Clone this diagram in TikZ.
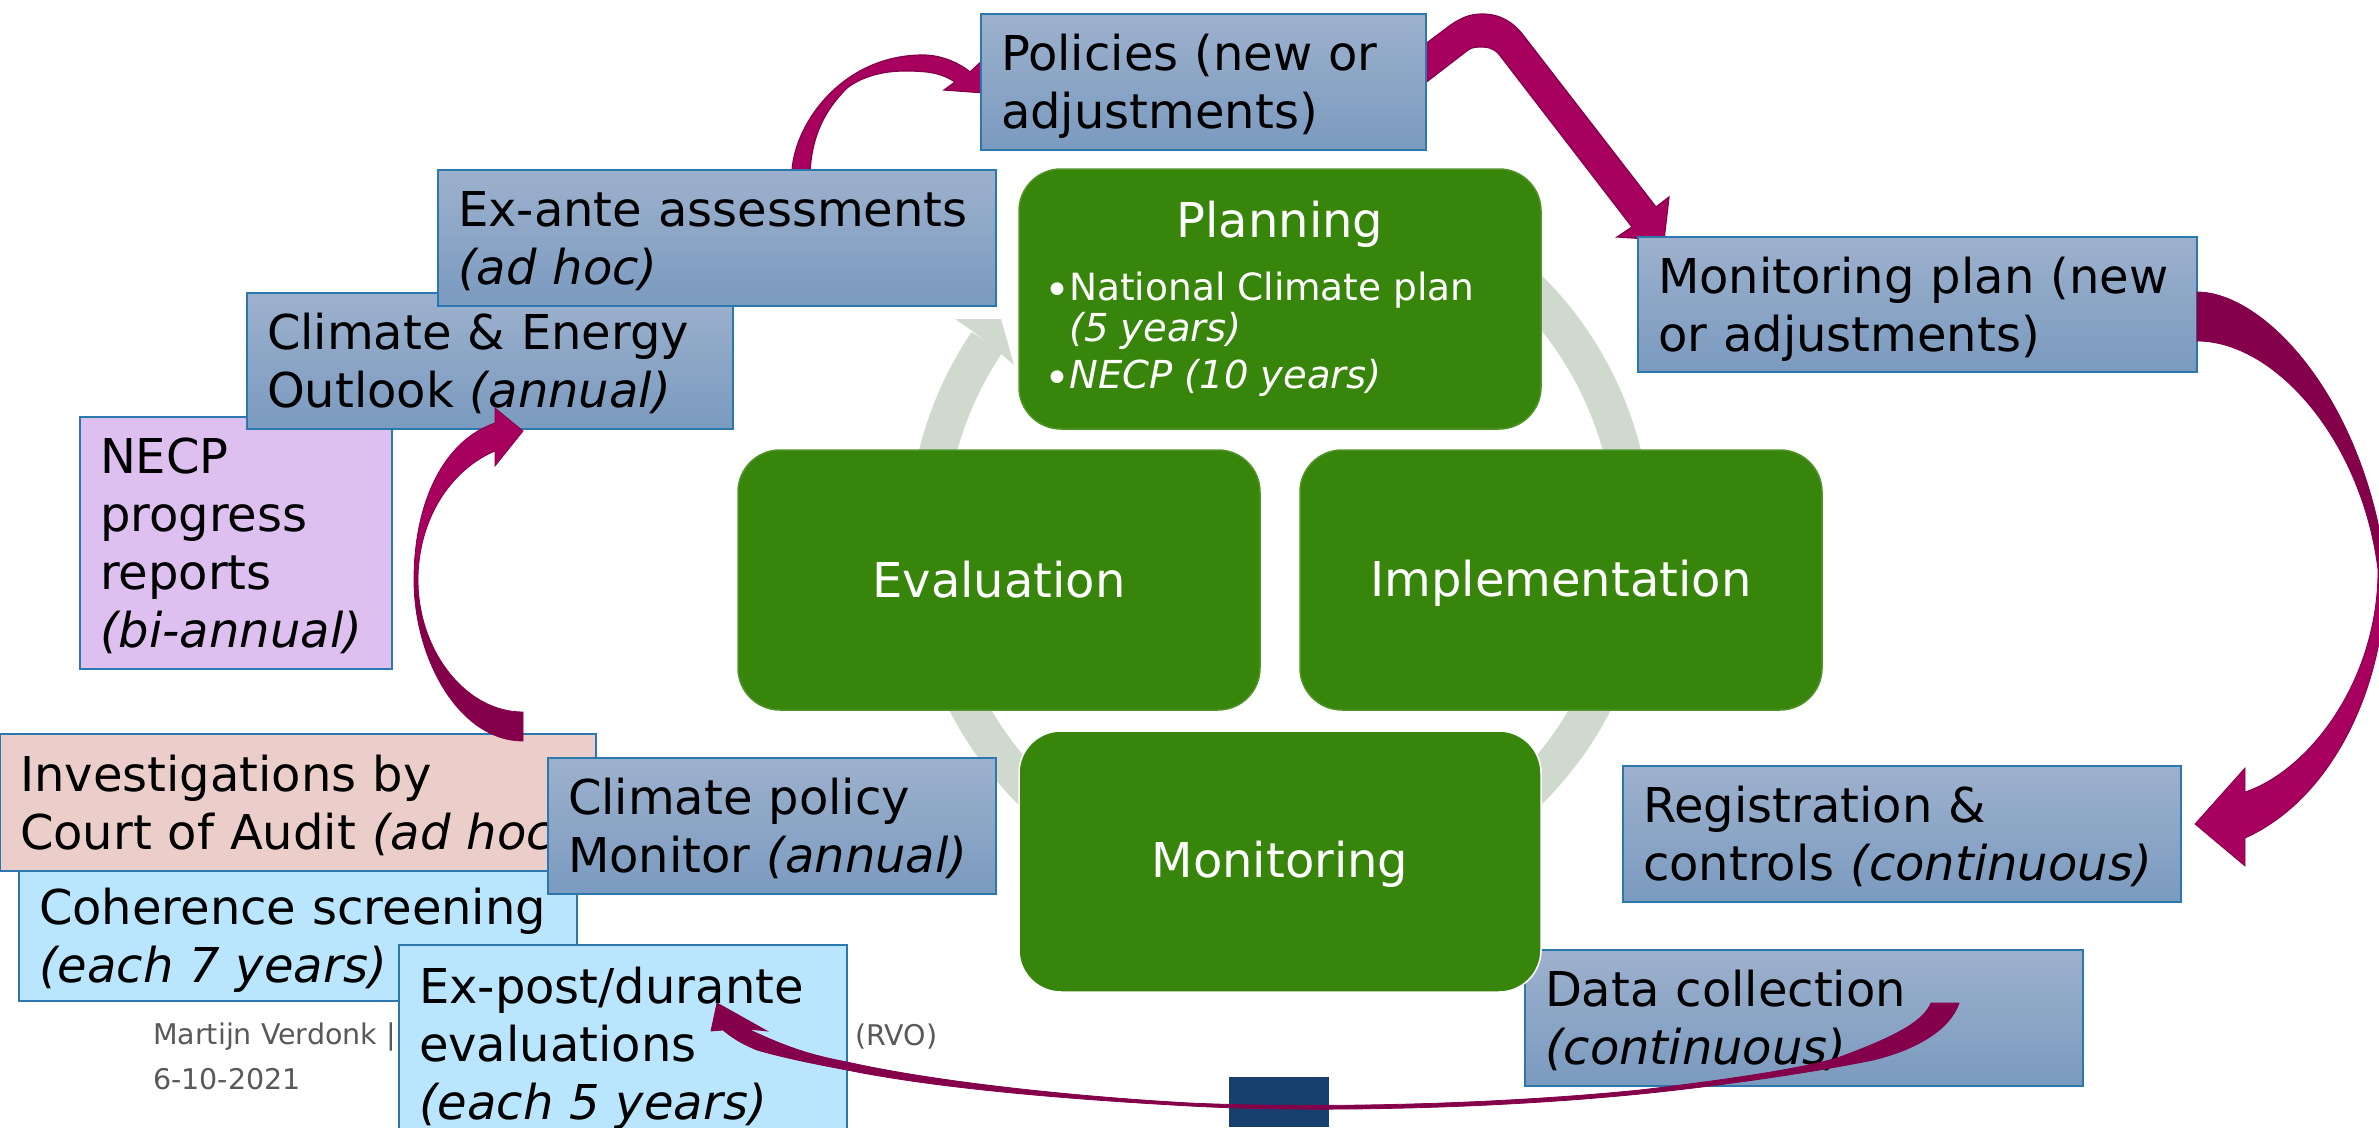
\documentclass[tikz,border=0pt]{standalone}
\usepackage{fontspec}
\setmainfont{DejaVu Sans}
\definecolor{boxtop}{HTML}{9DB1CD}
\definecolor{boxbot}{HTML}{7A9ABF}
\definecolor{boxline}{HTML}{2A78AE}
\definecolor{leaf}{HTML}{38850C}
\definecolor{ring}{HTML}{CFD9CD}
\definecolor{pinkbox}{HTML}{EBCEC9}
\definecolor{skybox}{HTML}{B9E6FE}
\definecolor{lilacbox}{HTML}{DDBFF0}
\definecolor{arrlight}{HTML}{A8005E}
\definecolor{arrdark}{HTML}{85004B}
\definecolor{navy}{HTML}{17406F}
\definecolor{foot}{HTML}{595959}
\pgfdeclareverticalshading{lighttop}{100bp}{color(0bp)=(arrdark); color(47bp)=(arrdark); color(53bp)=(arrlight); color(100bp)=(arrlight)}
\pgfdeclareverticalshading{darktop}{100bp}{color(0bp)=(arrlight); color(47bp)=(arrlight); color(53bp)=(arrdark); color(100bp)=(arrdark)}
\pgfdeclarehorizontalshading{lightleft}{100bp}{color(0bp)=(arrlight); color(8bp)=(arrlight); color(18bp)=(arrdark); color(100bp)=(arrdark)}
\tikzset{
  anybox/.style={anchor=north west,align=left,outer sep=0pt,inner xsep=20pt,inner ysep=0pt,draw=boxline,line width=1.6pt,text=black,font=\fontsize{48}{58}\selectfont,
    execute at begin node={\rule{0pt}{46pt}},execute at end node={\rule[-11pt]{0pt}{0pt}}},
  bluebox/.style={anybox,top color=boxtop,bottom color=boxbot},
  flatbox/.style={anybox,fill=#1},
  leafbox/.style={anchor=north west,fill=leaf,draw=leaf!88!white,line width=1.5pt,outer sep=0pt,rounded corners=42pt,text=white,align=center,inner sep=0pt,font=\fontsize{48}{58}\selectfont,
    execute at begin node={\rule{0pt}{42pt}},execute at end node={\rule[-8pt]{0pt}{0pt}}},
  leaftext/.style={anchor=base west,text=white,inner sep=0pt,font=\fontsize{37.5}{44}\selectfont},
  leafital/.style={anchor=base west,text=white,inner sep=0pt,font=\fontsize{38.5}{44}\selectfont\itshape},
  leafdot/.style={anchor=base west,text=white,inner sep=0pt,font=\fontsize{44}{44}\selectfont},
  footnote/.style={anchor=west,text=foot,inner sep=0pt,font=\fontsize{28.5}{36}\selectfont},
  blockflat/.style={fill=arrlight,draw=arrdark,line width=1.2pt},
  blocklt/.style={shade,shading=lighttop,draw=arrdark,line width=0.8pt},
  blockdt/.style={shade,shading=darktop,draw=arrdark,line width=0.8pt},
  blockll/.style={shade,shading=lightleft,draw=arrdark,line width=0.8pt},
  ringline/.style={draw=ring,line width=37pt}
}
\begin{document}
\begin{tikzpicture}[x=1pt,y=-1pt]
\useasboundingbox (0,0) rectangle (2379,1127);
\clip (0,0) rectangle (2379,1127);
\fill[white] (0,0) rectangle (2379,1127);
% cycle ring
\coordinate (hub) at (1280,540);
\draw[ringline] ([shift={(62:353.5 and -353.5)}]hub) arc[start angle=62,end angle=-62,x radius=353.5,y radius=-353.5];
\draw[ringline] ([shift={(146:353.5 and -353.5)}]hub) arc[start angle=146,end angle=240,x radius=353.5,y radius=-353.5];
\fill[ring] (955,319) -- (1001,319) -- (1014,365) -- (1000,353) -- (971,330) -- cycle;
% arrows beneath the boxes
\path[blockflat] (792,172) -- (792,170) .. controls (796,120) and (845,55) .. (923,55) .. controls (940,55) and (958,62) .. (970,72) -- (985,58) -- (985,93) -- (944,90) -- (955,82) .. controls (940,72) and (925,71) .. (904,71) .. controls (880,71) and (860,78) .. (847,88) .. controls (825,110) and (812,135) .. (810,172) -- cycle;
\path[blockflat] (1420,48) -- (1448,27) .. controls (1460,18) and (1470,14) .. (1482,14) .. controls (1500,14) and (1513,22) .. (1523,35) -- (1656,207) -- (1669,197) -- (1664,240) -- (1617,237) -- (1632,227) -- (1498,53) .. controls (1492,48) and (1488,47) .. (1482,47) .. controls (1477,47) and (1472,47) .. (1468,50) -- (1420,87) -- cycle;
% boxes
\node[bluebox,text width=518pt,minimum height=136pt] (datacoll) at (1525,950) {Data collection\\\textit{(continuous)}};
\node[leafbox,minimum width=522pt,minimum height=260pt] (planning) at (1019,169) {};
\node[leafbox,minimum width=522pt,minimum height=260pt] (evaluation) at (738,450) {Evaluation};
\node[leafbox,minimum width=522pt,minimum height=260pt] (implementation) at (1300,450) {Implementation};
\node[leafbox,draw=white,minimum width=522pt,minimum height=261pt] (monitoring) at (1019,731) {Monitoring};
\node[anchor=base,text=white,inner sep=0pt,font=\fontsize{48}{58}\selectfont] (plantitle) at (1280,237) {Planning};
\node[leafdot] (bulletA) at (1044,305) {•};
\node[leaftext] (lineA) at (1069,300) {National Climate plan};
\node[leafital] (lineB) at (1069,341) {(5 years)};
\node[leafdot] (bulletB) at (1044,393) {•};
\node[leafital] (lineC) at (1069,388) {NECP (10 years)};
\node[flatbox=lilacbox,text width=272pt,minimum height=252pt] (necp) at (80,417) {NECP\\progress\\reports\\\textit{(bi-annual)}};
\node[bluebox,text width=446pt,minimum height=136pt] (outlook) at (247,293) {Climate \& Energy\\Outlook \textit{(annual)}};
\node[bluebox,text width=518pt,minimum height=136pt] (exante) at (438,170) {Ex-ante assessments\\\textit{(ad hoc)}};
\node[bluebox,text width=405pt,minimum height=136pt] (policies) at (981,14) {Policies (new or\\adjustments)};
\node[bluebox,text width=519pt,minimum height=135pt] (monplan) at (1638,237) {Monitoring plan (new\\or adjustments)};
\node[bluebox,text width=518pt,minimum height=136pt] (registration) at (1623,766) {Registration \&\\controls \textit{(continuous)}};
\node[flatbox=skybox,text width=518pt,minimum height=130pt] (coherence) at (19,871) {Coherence screening\\\textit{(each 7 years)}};
\node[flatbox=pinkbox,text width=556pt,minimum height=137pt] (court) at (0,734) {Investigations by\\Court of Audit \textit{(ad hoc)}};
\node[bluebox,text width=408pt,minimum height=136pt] (cpm) at (548,758) {Climate policy\\Monitor \textit{(annual)}};
\node[footnote] (footA) at (153,1037) {Martijn Verdonk |};
\node[footnote] (footB) at (855,1037) {(RVO)};
\node[footnote] (footC) at (153,1079) {6-10-2021};
\fill[navy] (1229,1077) rectangle (1329,1127);
\node[flatbox=skybox,text width=408pt,minimum height=198pt] (expost) at (399,945) {Ex-post/durante\\evaluations\\\textit{(each 5 years)}};
% arrows on top
\path[blockdt] (2197,292) .. controls (2265,292) and (2365,400) .. (2386,570) .. controls (2386,690) and (2330,800) .. (2245,838) -- (2245,866) -- (2195,824) -- (2245,768) -- (2245,792) .. controls (2310,770) and (2378,680) .. (2378,570) .. controls (2362,440) and (2275,341) .. (2197,341) -- cycle;
\path[blocklt] (523,741) .. controls (460,741) and (414,660) .. (414,580) .. controls (414,500) and (445,440) .. (495,423) -- (495,408) -- (523,431) -- (495,466) -- (495,451) .. controls (450,470) and (418,520) .. (418,580) .. controls (418,650) and (465,712) .. (523,712) -- cycle;
\path[blockll] (1931,1003) .. controls (1924,1020) and (1900,1035) .. (1840,1057) .. controls (1800,1070) and (1700,1083) .. (1640,1090) .. controls (1480,1106) and (1300,1108) .. (1190,1103) .. controls (1100,1098) and (950,1085) .. (847,1062) .. controls (815,1056) and (790,1049) .. (748,1029) -- (767,1031) -- (717,1003) -- (711,1031) -- (723,1030) .. controls (735,1040) and (745,1045) .. (757,1050) .. controls (785,1058) and (815,1064) .. (847,1070) .. controls (950,1091) and (1100,1101) .. (1190,1106) .. controls (1300,1112) and (1480,1110) .. (1640,1094) .. controls (1700,1088) and (1800,1075) .. (1873,1060) .. controls (1915,1050) and (1950,1030) .. (1959,1003) -- cycle;
\end{tikzpicture}
\end{document}
